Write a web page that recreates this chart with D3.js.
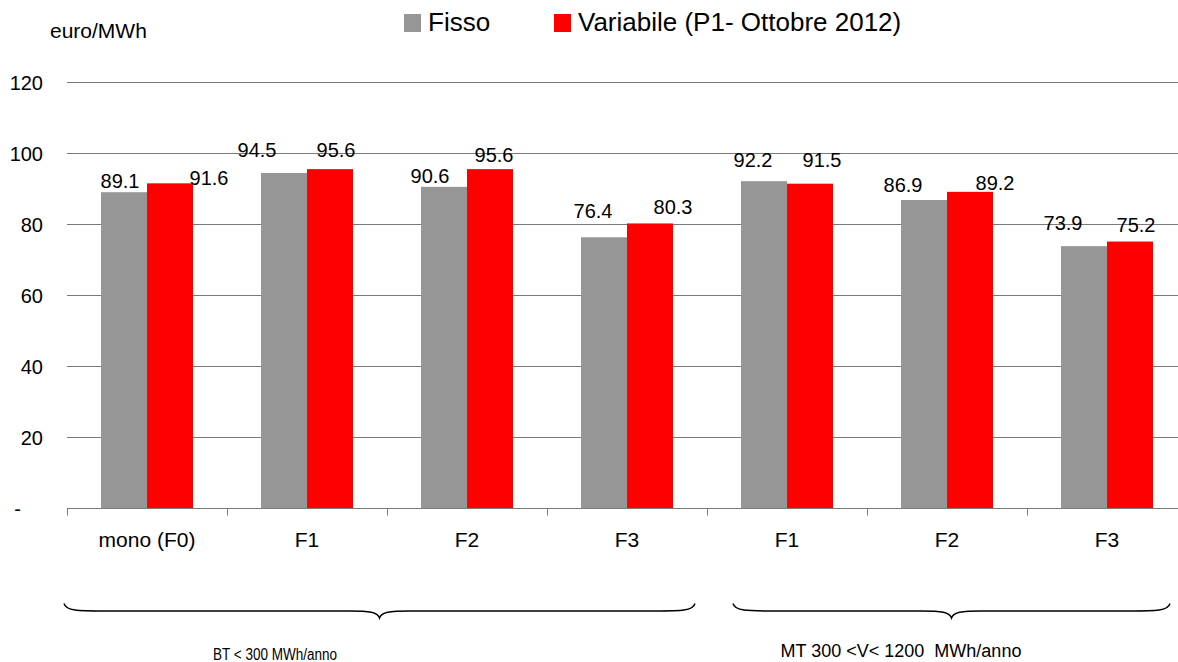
<!DOCTYPE html>
<html>
<head>
<meta charset="utf-8">
<script src="https://cdn.jsdelivr.net/npm/d3@7.9.0/dist/d3.min.js"></script>
<style>
  html, body { margin: 0; padding: 0; background: #fff; }
  svg { display: block; font-family: "Liberation Sans", Arial, sans-serif; }
  .grid line { stroke: #7a7a7a; stroke-width: 1; }
  .brace { fill: none; stroke: #000; stroke-width: 1.4; }
  .group-label { white-space: pre; }
</style>
</head>
<body>
<svg id="chart" width="1178" height="662"></svg>
<script>
// categories (two groups of supply)
const categories = ['mono (F0)', 'F1', 'F2', 'F3', 'F1', 'F2', 'F3'];
const seriesNames = ['Fisso', 'Variabile (P1- Ottobre 2012)'];
const fisso = [89.1, 94.5, 90.6, 76.4, 92.2, 86.9, 73.9];
const variabile = [91.6, 95.6, 95.6, 80.3, 91.5, 89.2, 75.2];
const yTicks = [0, 20, 40, 60, 80, 100, 120];
const groups = [
  { label: 'BT < 300 MWh/anno', from: 0, to: 3 },
  { label: 'MT 300 <V< 1200  MWh/anno', from: 4, to: 6 }
];

// the data labels are placed a bit irregularly in the original (Excel layout)
const fissoLabelNudge = [[-4, -4], [-27, -16], [-14, -4], [-11, -19], [-11, -14], [-21, -8], [-21, -16]];
const variabileLabelNudge = [[39, 2], [6, -12], [4, -7], [23, -9], [12, -17], [25, -2], [6, -10]];

const colors = ['#969696', '#ff0000'];

const svg = d3.select('#chart');

let x0 = d3.scaleBand()
  .domain(d3.range(categories.length))
  .range([67, 1187])
  .padding(0);

let x1 = d3.scaleBand()
  .domain([0, 1])
  .range([0, x0.bandwidth()])
  .paddingInner(0)
  .paddingOuter(0.739);

let y = d3.scaleLinear().domain([0, 120]).range([508.5, 82.5]);

// gridlines
svg.append('g')
  .attr('class', 'grid')
  .selectAll('line')
  .data(yTicks.filter((d) => d > 0))
  .join('line')
  .attr('x1', 67)
  .attr('x2', 1178)
  .attr('y1', (d) => y(d))
  .attr('y2', (d) => y(d));

// y tick labels
svg.append('g')
  .selectAll('text')
  .data(yTicks)
  .join('text')
  .attr('x', (d) => (d === 0 ? 21 : 43))
  .attr('y', (d) => y(d))
  .attr('dy', '0.36em')
  .attr('text-anchor', 'end')
  .attr('font-size', 20)
  .text((d) => (d === 0 ? '-' : d));

svg.append('text')
  .attr('x', 50)
  .attr('y', 38)
  .attr('font-size', 21)
  .text('euro/MWh');

// bars
let series = [fisso, variabile];
let nudges = [fissoLabelNudge, variabileLabelNudge];

series.forEach((values, s) => {
  svg.append('g')
    .selectAll('rect')
    .data(values)
    .join('rect')
    .attr('x', (d, i) => x0(i) + x1(s))
    .attr('y', (d) => y(d))
    .attr('width', x1.bandwidth())
    .attr('height', (d) => y(0) - y(d))
    .attr('fill', colors[s]);

  svg.append('g')
    .selectAll('text')
    .data(values)
    .join('text')
    .attr('x', (d, i) => x0(i) + x1(s) + x1.bandwidth() / 2 + nudges[s][i][0])
    .attr('y', (d, i) => y(d) + nudges[s][i][1])
    .attr('text-anchor', 'middle')
    .attr('font-size', 20)
    .text((d) => d.toFixed(1));
});

// x axis
let xAxis = svg.append('g');
xAxis.append('line')
  .attr('x1', 67)
  .attr('x2', 1178)
  .attr('y1', y(0))
  .attr('y2', y(0))
  .attr('stroke', '#7a7a7a');

xAxis.selectAll('.tick')
  .data(d3.range(categories.length + 1))
  .join('line')
  .attr('class', 'tick')
  .attr('x1', (d) => Math.round(67 + d * x0.step()) + 0.5)
  .attr('x2', (d) => Math.round(67 + d * x0.step()) + 0.5)
  .attr('y1', y(0))
  .attr('y2', y(0) + 7)
  .attr('stroke', '#7a7a7a');

xAxis.selectAll('.cat')
  .data(categories)
  .join('text')
  .attr('class', 'cat')
  .attr('x', (d, i) => x0(i) + x0.bandwidth() / 2)
  .attr('y', 547)
  .attr('text-anchor', 'middle')
  .attr('font-size', 21)
  .text((d) => d);

// braces under the two groups
function bracePath(a, b, top, mid, tip) {
  let m = (a + b) / 2;
  return `M${a},${top} C${a + 2},${mid} ${a + 14},${mid} ${a + 40},${mid}`
    + ` L${m - 30},${mid} C${m - 10},${mid} ${m - 2},${mid + 1} ${m},${tip}`
    + ` C${m + 2},${mid + 1} ${m + 10},${mid} ${m + 30},${mid}`
    + ` L${b - 40},${mid} C${b - 14},${mid} ${b - 2},${mid} ${b},${top}`;
}

let braceSpans = [[64, 695], [733, 1170]];
let braceText = [
  { x: 275, y: 660, size: 16, width: 124 },
  { x: 901, y: 657, size: 18, width: null }
];

groups.forEach((g, k) => {
  let [a, b] = braceSpans[k];
  svg.append('path')
    .attr('class', 'brace')
    .attr('d', bracePath(a, b, 603.5, 611, 618));

  let t = svg.append('text')
    .attr('class', 'group-label')
    .attr('x', braceText[k].x)
    .attr('y', braceText[k].y)
    .attr('text-anchor', 'middle')
    .attr('font-size', braceText[k].size)
    .text(g.label);
  if (braceText[k].width) {
    // the first label is set in a condensed face in the original
    t.attr('textLength', braceText[k].width).attr('lengthAdjust', 'spacingAndGlyphs');
  }
});

// legend
let legendX = [404, 554];
seriesNames.forEach((name, s) => {
  svg.append('rect')
    .attr('x', legendX[s])
    .attr('y', 14)
    .attr('width', 17)
    .attr('height', 18)
    .attr('fill', colors[s]);
  svg.append('text')
    .attr('x', legendX[s] + 24)
    .attr('y', 31)
    .attr('font-size', 26)
    .text(name);
});
</script>
</body>
</html>
